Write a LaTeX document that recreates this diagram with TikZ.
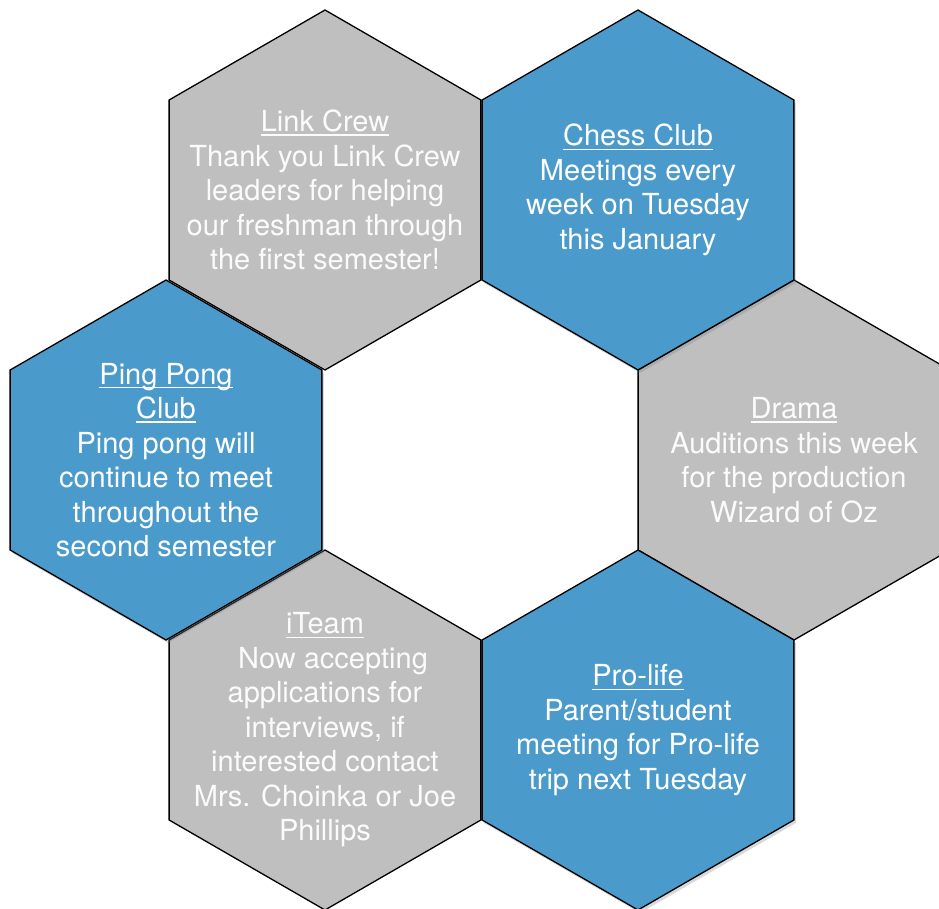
\documentclass[tikz,border=0pt]{standalone}
\usepackage{fontspec}
\setmainfont{TeX Gyre Heros}
\usetikzlibrary{shapes.geometric,shadows}
\definecolor{hexgray}{RGB}{191,191,191}
\definecolor{hexblue}{RGB}{74,154,203}
\newcommand\ttl[1]{\leavevmode\setbox0\hbox{#1}\rlap{\rule[-4pt]{\wd0}{1.2pt}}\box0}
\begin{document}
\begin{tikzpicture}[x=1pt,y=-1pt,
  hex/.style={regular polygon, regular polygon sides=6, shape border rotate=30,
    minimum size=360pt, inner sep=0pt, outer sep=0pt, draw=black, line width=1.3pt},
  grayhex/.style={hex, fill=hexgray},
  bluehex/.style={hex, fill=hexblue,
    drop shadow={shadow xshift=2pt, shadow yshift=-3pt, opacity=0.3}},
  txt/.style={align=center, font=\fontsize{29}{34.5}\selectfont, text=white, inner sep=0pt},
  lighttxt/.style={txt, text=white!94!hexgray}
]
\useasboundingbox (0,0) rectangle (939,909);
% gray hexagons
\node[grayhex] (link)  at (325,190) {};
\node[grayhex] (drama) at (794,460) {};
\node[grayhex] (iteam) at (325,730) {};
% blue hexagons
\node[bluehex] (chess) at (638,190) {};
\node[bluehex] (ping)  at (166,460) {};
\node[bluehex] (pro)   at (638,730) {};
% texts on gray
\node[lighttxt] (linkT) at (link) {\ttl{Link Crew}\\Thank you Link Crew\\leaders for helping\\our freshman through\\the first semester!};
\node[lighttxt] (dramaT) at (drama) {\ttl{Drama}\\Auditions this week\\for the production\\Wizard of Oz};
\node[lighttxt] (iteamT) at (iteam) {\ttl{iTeam}\\\hspace*{16pt}Now accepting\\applications for\\interviews, if\\interested contact\\Mrs. Choinka or Joe\\Phillips};
% texts on blue
\node[txt] (chessT) at (chess) {\ttl{Chess Club}\\Meetings every\\week on Tuesday\\this January};
\node[txt] (pingT) at (ping) {\ttl{Ping Pong}\\\ttl{Club}\\Ping pong will\\continue to meet\\throughout the\\second semester};
\node[txt] (proT) at (pro) {\ttl{Pro-life}\\Parent/student\\meeting for Pro-life\\trip next Tuesday};
\end{tikzpicture}
\end{document}
